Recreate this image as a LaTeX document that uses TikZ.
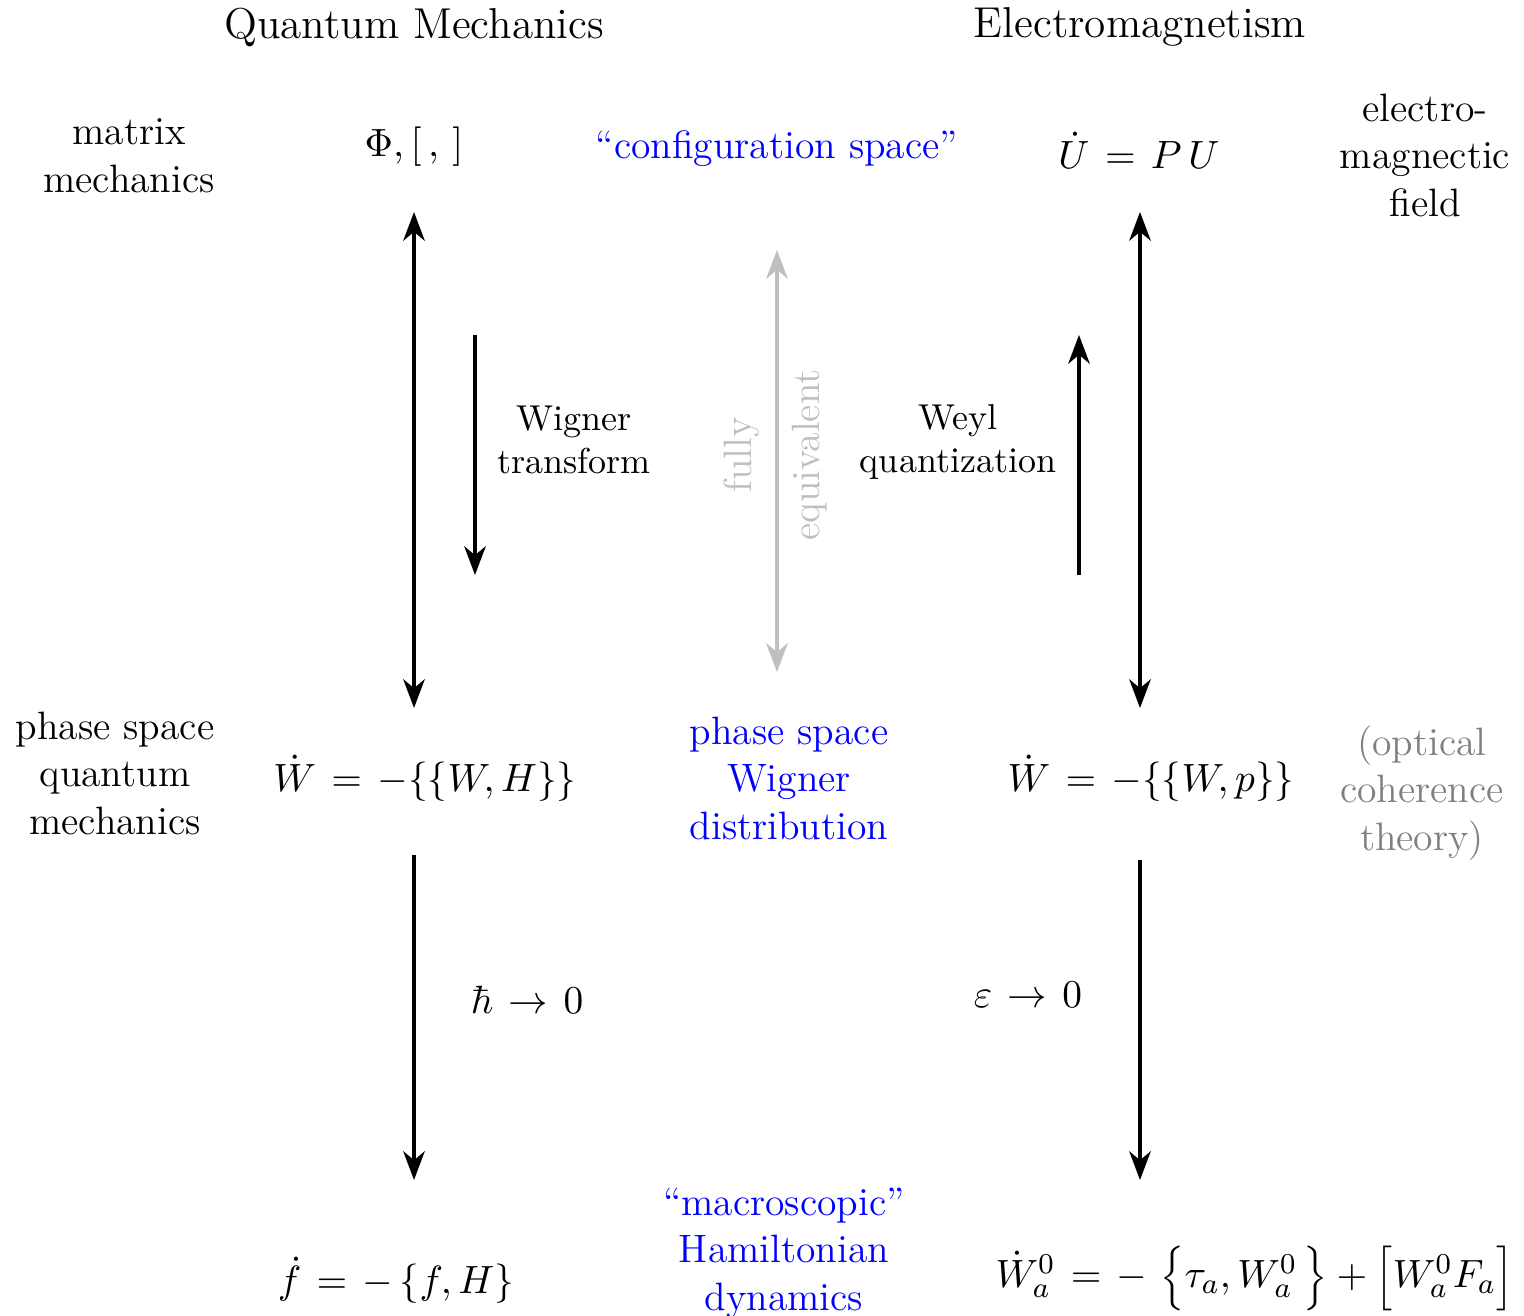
\documentclass[tikz,border=0pt]{standalone}
\usetikzlibrary{arrows.meta}
\thickmuskip=7mu plus 2mu
\newcommand\tallstrut{\vrule height 9.5pt depth 4pt width 0pt}
\tikzset{
  big/.style={font=\fontsize{12}{14.5}\selectfont},
  mid/.style={font=\fontsize{11}{13.2}\selectfont, align=center},
  small/.style={font=\normalsize, align=center},
  mth/.style={font=\fontsize{11}{13.2}\selectfont},
  bl/.style={text=blue},
  ar/.style={line width=0.85pt, -{Stealth[length=8pt,width=6pt,inset=2.5pt]}},
  dar/.style={line width=0.85pt, {Stealth[length=8pt,width=6pt,inset=2.5pt]}-{Stealth[length=8pt,width=6pt,inset=2.5pt]}},
}
\begin{document}
\begin{tikzpicture}[x=0.2778pt,y=-0.2778pt]
\useasboundingbox (0,0) rectangle (1524,1316);
% titles
\node[big] (qm) at (414,27) {Quantum Mechanics};
\node[big] (em) at (1140,27) {Electromagnetism};
% top row
\node[mid] (mm) at (129,156) {matrix\\mechanics};
\node[mth] (phi) at (414,147) {$\Phi,[\,,\,]$};
\node[mid,bl] (cs) at (777,149) {``configuration space''};
\node[mth] (u) at (1139,150) {$\dot U = P\,U$};
\node[mid] (emf) at (1425,155) {electro-\\magnectic\\field};
% middle row
\node[mid] (psqm) at (115,773) {phase space\\quantum\\mechanics};
\node[mth] (w1) at (425,778) {$\dot W = -\{\{W,H\}\}$};
\node[mid,bl] (wd) at (789,778) {phase space\\Wigner\\distribution};
\node[mth] (w2) at (1151,778) {$\dot W = -\{\{W,p\}\}$};
\node[mid,text=gray] (oct) at (1422,793) {(optical\\coherence\\theory)};
% bottom row
\node[mth] (f) at (396,1280) {$\dot f = -\left\{f,H\right\}$};
\node[mid,bl] (mhd) at (784,1253) {``macroscopic''\\Hamiltonian\\dynamics};
\node[mth,anchor=west] (wa) at (983,1278) {$\dot W_a^0 = -\,\left\{\tallstrut\tau_a, W_a^0\,\right\} + \left[\tallstrut W_a^0 F_a\right]$};
% coordinates for arrows
\coordinate (l1) at (414,212); \coordinate (l2) at (414,708);
\coordinate (r1) at (1140,212); \coordinate (r2) at (1140,708);
\coordinate (wt1) at (475,335); \coordinate (wt2) at (475,575);
\coordinate (wq1) at (1079,575); \coordinate (wq2) at (1079,335);
\coordinate (g1) at (777,250); \coordinate (g2) at (777,672);
\coordinate (l3) at (414,855); \coordinate (l4) at (414,1180);
\coordinate (r3) at (1140,860); \coordinate (r4) at (1140,1180);
\draw[dar] (l1) -- (l2);
\draw[dar] (r1) -- (r2);
\draw[ar] (wt1) -- (wt2);
\draw[ar] (wq1) -- (wq2);
\draw[dar, draw=black!25] (g1) -- (g2);
\draw[ar] (l3) -- (l4);
\draw[ar] (r3) -- (r4);
% labels
\node[small] (wtl) at (574,440) {Wigner\\transform};
\node[small] (wql) at (958,442) {Weyl\\quantization};
\node[mid,text=black!25,rotate=90] (fully) at (742,455) {fully};
\node[mid,text=black!25,rotate=90] (equiv) at (810,455) {equivalent};
\node[mth] (hb) at (527,1000) {$\hbar\to0$};
\node[mth] (ep) at (1028,995) {$\varepsilon\to0$};
\end{tikzpicture}
\end{document}
